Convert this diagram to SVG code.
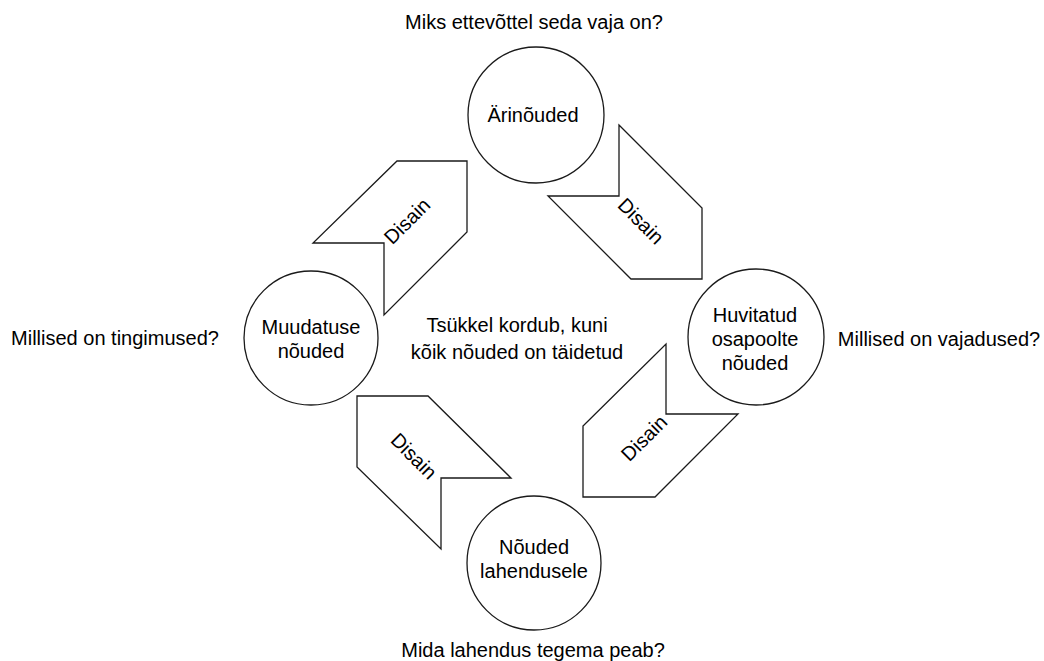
<svg xmlns="http://www.w3.org/2000/svg" width="1044" height="661" viewBox="0 0 1044 661">
<style>
  .shape { fill: #ffffff; stroke: #1a1a1a; stroke-width: 1.3; }
  text { font-family: "Liberation Sans", Arial, sans-serif; font-size: 20px; fill: #000000; text-anchor: middle; }
  .lbl { dominant-baseline: central; }
</style>
<rect x="0" y="0" width="1044" height="661" fill="#ffffff"/>

<g id="arrows">
  <g id="arrow-top-right">
    <polygon class="shape" points="619,125 702,208 702,279 631,279 548,196 619,196"/>
    <text class="lbl" transform="translate(641,221) rotate(45)">Disain</text>
  </g>
  <g id="arrow-bottom-right">
    <polygon class="shape" points="666,344 666,414 738,414 655,497 583,497 583,426"/>
    <text class="lbl" transform="translate(644,438) rotate(-45)">Disain</text>
  </g>
  <g id="arrow-bottom-left">
    <polygon class="shape" points="357,396 428,396 511,478 441,478 441,549 357,467"/>
    <text class="lbl" transform="translate(414,456) rotate(45)">Disain</text>
  </g>
  <g id="arrow-top-left">
    <polygon class="shape" points="397,161 467,161 467,232 384,315 384,243 313,243"/>
    <text class="lbl" transform="translate(407,221) rotate(-45)">Disain</text>
  </g>
</g>

<g id="node-arinouded">
  <circle class="shape" cx="536" cy="115" r="68"/>
  <text x="533" y="122">Ärinõuded</text>
</g>
<g id="node-huvitatud">
  <circle class="shape" cx="756" cy="337" r="68"/>
  <text x="755" y="322">Huvitatud</text>
  <text x="755" y="346">osapoolte</text>
  <text x="755" y="370">nõuded</text>
</g>
<g id="node-lahendus">
  <circle class="shape" cx="534" cy="563" r="67"/>
  <text x="534" y="554">Nõuded</text>
  <text x="534" y="578">lahendusele</text>
</g>
<g id="node-muudatuse">
  <circle class="shape" cx="311" cy="338" r="67"/>
  <text x="311" y="334">Muudatuse</text>
  <text x="311" y="358">nõuded</text>
</g>

<g id="labels">
  <text x="534" y="29">Miks ettevõttel seda vaja on?</text>
  <text x="939" y="346">Millised on vajadused?</text>
  <text x="533" y="657">Mida lahendus tegema peab?</text>
  <text x="115" y="345">Millised on tingimused?</text>
  <text x="517" y="332">Tsükkel kordub, kuni</text>
  <text x="517" y="359">kõik nõuded on täidetud</text>
</g>
</svg>
